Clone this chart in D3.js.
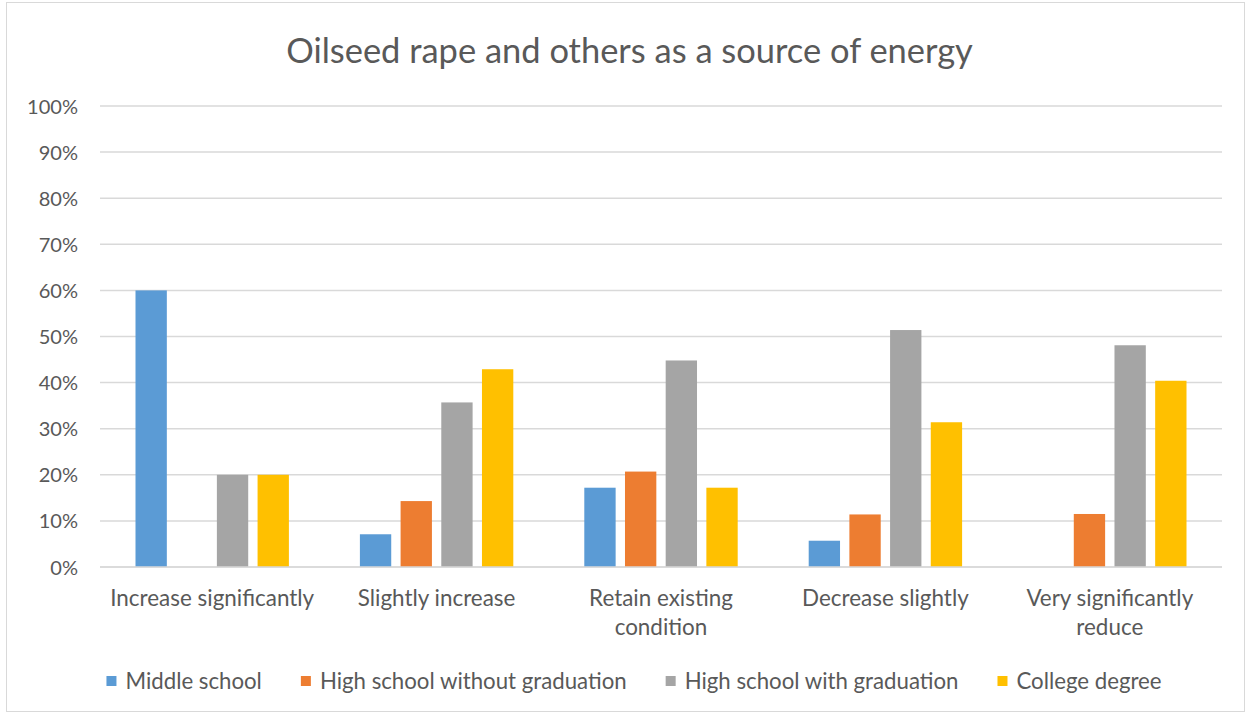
<!DOCTYPE html>
<html>
<head>
<meta charset="utf-8">
<script src="https://cdn.jsdelivr.net/npm/d3@7"></script>
<style>
  html, body { margin: 0; padding: 0; background: #fff; }
  svg { display: block; }
  text { font-family: Lato, "Open Sans", sans-serif; fill: #595959; }
</style>
</head>
<body>
<svg id="chart" width="1248" height="715"></svg>
<script>
const title = "Oilseed rape and others as a source of energy";
const categories = ["Increase significantly", "Slightly increase", "Retain existing condition", "Decrease slightly", "Very significantly reduce"];
const seriesNames = ["Middle school", "High school without graduation", "High school with graduation", "College degree"];
const middleSchool = [0.600, 0.071, 0.172, 0.057, 0.000];
const hsWithout    = [0.000, 0.143, 0.207, 0.114, 0.115];
const hsWith       = [0.200, 0.357, 0.448, 0.514, 0.481];
const college      = [0.200, 0.429, 0.172, 0.314, 0.404];
const yTicks = [0, 0.1, 0.2, 0.3, 0.4, 0.5, 0.6, 0.7, 0.8, 0.9, 1.0];
const colors = ["#5b9bd5", "#ed7d31", "#a5a5a5", "#ffc000"];

const seriesValues = [middleSchool, hsWithout, hsWith, college];
const svg = d3.select("#chart");

// border
svg.append("rect").attr("x", 6.5).attr("y", 2.5).attr("width", 1238).attr("height", 709)
  .attr("fill", "#fff").attr("stroke", "#d9d9d9").attr("stroke-width", 1);

const plot = { left: 100, right: 1222, top: 106, bottom: 567 };

const x0 = d3.scaleBand().domain(categories).range([plot.left, plot.right]).padding(0);
const bw = x0.bandwidth();
const outer = 35.5;
const x1 = d3.scaleBand().domain(seriesNames).range([outer, bw - outer]).paddingInner(0.23).paddingOuter(0);
const y = d3.scaleLinear().domain([0, 1]).range([plot.bottom, plot.top]);

function fitFont(textSel, target, base) {
  textSel.attr("font-size", base);
  const w = textSel.node().getComputedTextLength();
  return base * target / w;
}

// gridlines
svg.append("g").selectAll("line").data(yTicks).join("line")
  .attr("x1", plot.left).attr("x2", plot.right)
  .attr("y1", d => y(d)).attr("y2", d => y(d))
  .attr("stroke", "#d9d9d9").attr("stroke-width", 1.5);

// y axis labels (d3 axis, restyled)
const yAxis = d3.axisLeft(y).tickValues(yTicks).tickFormat(d3.format(".0%")).tickSize(0).tickPadding(0);
const yG = svg.append("g").attr("transform", `translate(${78},0)`).call(yAxis);
yG.select(".domain").remove();
const probe = svg.append("text").text("100%");
const tickFs = fitFont(probe, 51, 20);
probe.remove();
yG.selectAll("text").attr("font-size", tickFs).attr("fill", "#595959")
  .attr("font-family", "Lato, 'Open Sans', sans-serif").attr("dy", "0.35em");

// bars
const groups = svg.append("g").selectAll("g").data(categories).join("g")
  .attr("transform", d => `translate(${x0(d)},0)`);
groups.selectAll("rect").data((c, i) => seriesNames.map((s, j) => ({ s, j, v: seriesValues[j][i] })))
  .join("rect")
  .attr("x", d => x1(d.s)).attr("width", x1.bandwidth())
  .attr("y", d => y(d.v)).attr("height", d => y(0) - y(d.v))
  .attr("fill", d => colors[d.j]);

// baseline redraw on top
svg.append("line").attr("x1", plot.left).attr("x2", plot.right)
  .attr("y1", y(0)).attr("y2", y(0)).attr("stroke", "#d9d9d9").attr("stroke-width", 1.5);

// category labels
const probe2 = svg.append("text").text(categories[0]);
const catFs = fitFont(probe2, 204, 20);
probe2.remove();
const maxW = 212;
categories.forEach(c => {
  const t = svg.append("text").attr("text-anchor", "middle").attr("font-size", catFs)
    .attr("x", x0(c) + bw / 2).attr("y", 606);
  const words = c.split(" ");
  let lines = [], cur = [];
  words.forEach(w => {
    cur.push(w);
    t.text(cur.join(" "));
    if (t.node().getComputedTextLength() > maxW && cur.length > 1) {
      cur.pop(); lines.push(cur.join(" ")); cur = [w];
    }
  });
  lines.push(cur.join(" "));
  t.text(null);
  lines.forEach((l, k) => {
    t.append("tspan").attr("x", x0(c) + bw / 2).attr("y", 606 + k * 29).text(l);
  });
});

// title
const tt = svg.append("text").text(title).attr("text-anchor", "middle")
  .attr("x", 629.5).attr("y", 63);
tt.attr("font-size", fitFont(tt, 687, 30));

// legend
const probe3 = svg.append("text").text(seriesNames[1]);
const legFs = fitFont(probe3, 307, 20);
probe3.remove();
const leg = svg.append("g");
let lx = 0;
seriesNames.forEach((s, j) => {
  const g = leg.append("g").attr("transform", `translate(${lx},0)`);
  g.append("rect").attr("x", 0).attr("y", -5).attr("width", 10).attr("height", 10).attr("fill", colors[j]);
  const t = g.append("text").attr("x", 19).attr("y", 0).attr("dy", "0.35em").attr("font-size", legFs).text(s);
  lx += 19 + t.node().getComputedTextLength() + 39;
});
const totalW = lx - 39;
leg.attr("transform", `translate(${634 - totalW / 2},681)`);
</script>
</body>
</html>
